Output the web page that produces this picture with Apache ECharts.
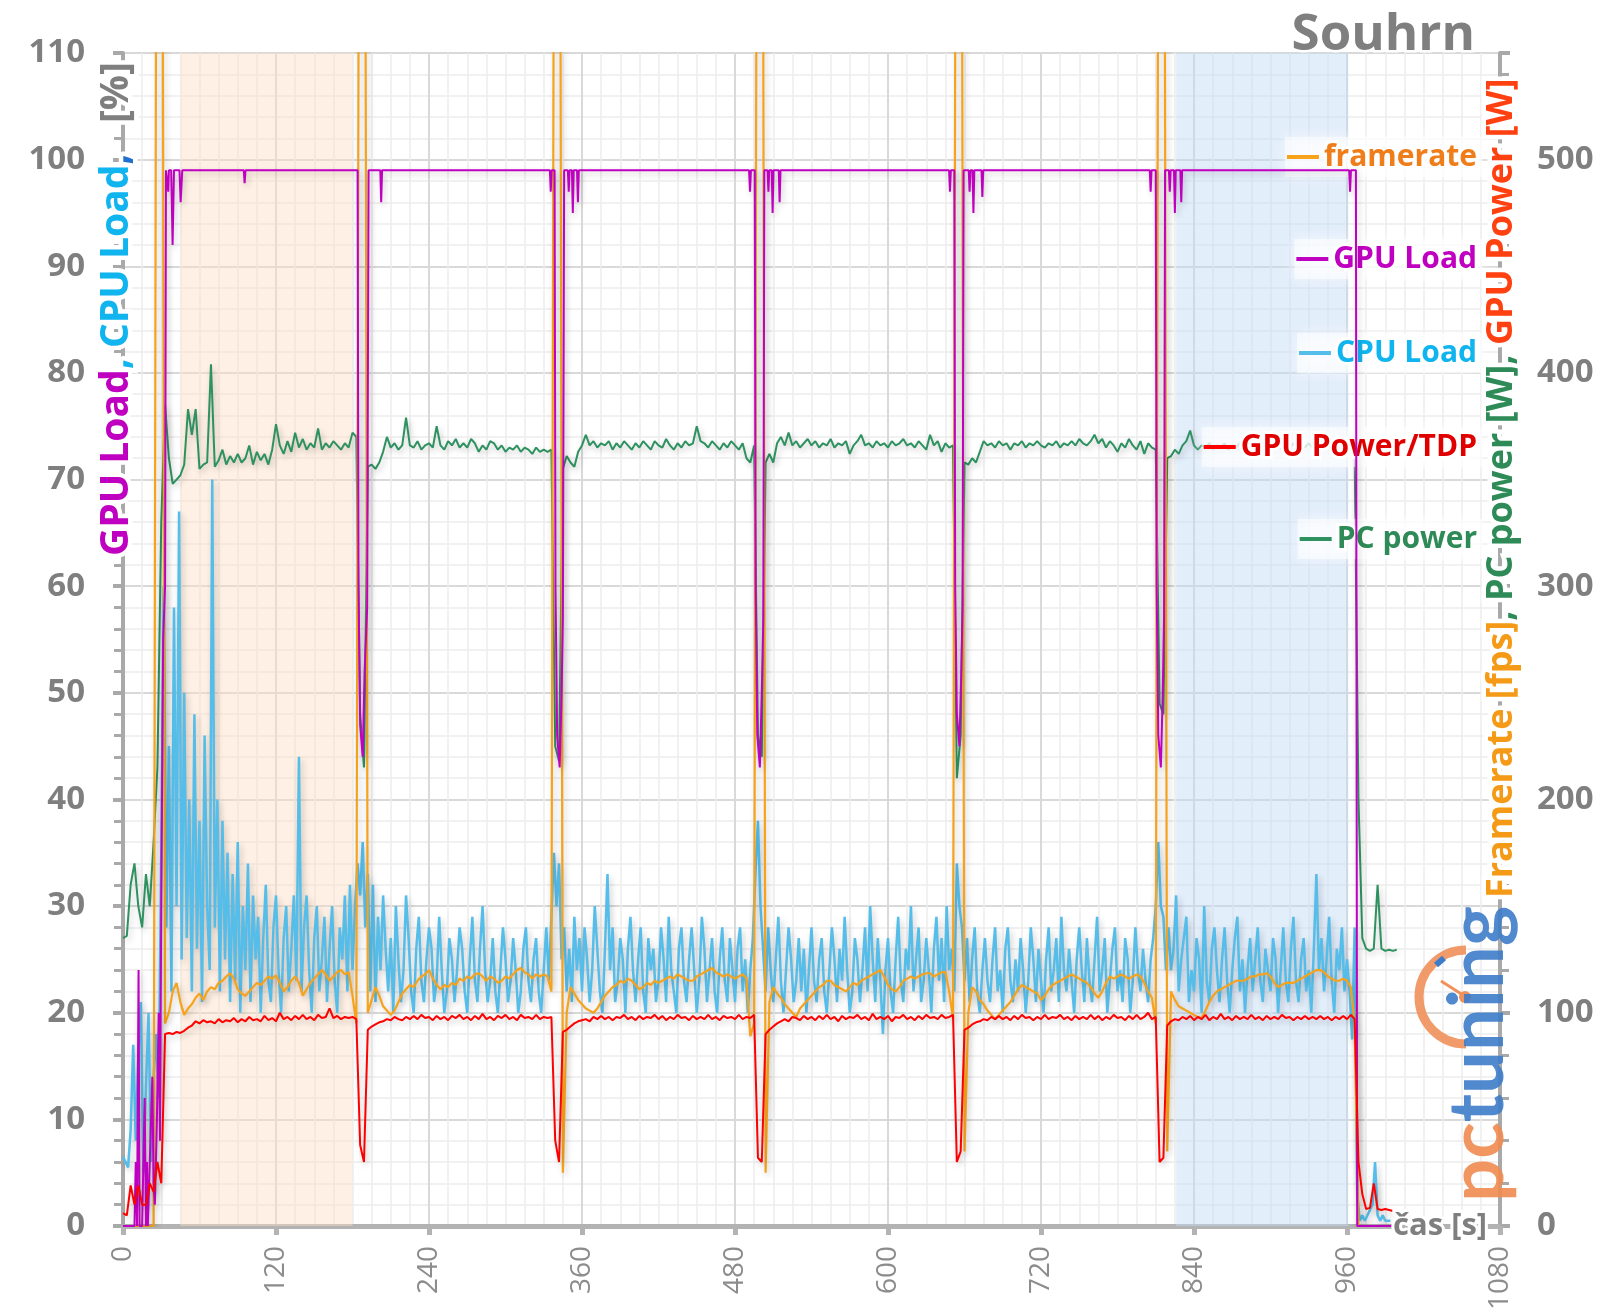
<!DOCTYPE html>
<html><head><meta charset="utf-8">
<script src="https://cdn.jsdelivr.net/npm/echarts@6/dist/echarts.min.js"></script>
<style>html,body{margin:0;padding:0;background:#fff}#c{width:1600px;height:1313px}</style>
</head><body><div id="c"></div>
<script>
// ---- data ----
const xTicks = [0,120,240,360,480,600,720,840,960,1080];
const legendNames = ['framerate','GPU Load','CPU Load','GPU Power/TDP','PC power'];
const bandOrange = [45,180];
const bandBlue = [826,961];
// PC power [W], one value every 3 s from t=0
const pcPowerW = [
135,136,160,170,150,140,165,150,180,215,
330,385,360,348,350,352,357,383,371,383,
355,357,358,404,356,359,364,357,361,358,
362,358,360,366,357,363,359,362,357,364,
376,366,362,368,363,372,365,369,364,367,
365,374,364,367,365,368,366,364,367,365,
372,370,240,215,356,357,355,358,363,370,
365,367,364,366,379,366,365,368,364,366,
367,365,375,366,364,368,366,369,365,367,
365,369,367,363,366,364,368,367,364,366,
363,365,364,366,363,365,364,362,365,363,
364,363,364,225,218,355,361,358,356,363,
366,371,366,368,365,367,366,368,364,367,
365,368,366,364,367,365,368,366,364,368,
366,365,369,366,364,367,365,368,366,367,
375,368,367,365,368,366,364,367,365,368,
366,364,367,360,358,366,230,220,358,362,
358,367,370,366,372,366,368,365,367,369,
366,368,365,367,366,369,365,367,366,368,
362,366,368,371,366,367,365,368,366,367,
365,368,366,367,369,366,367,365,368,366,
364,371,366,368,363,367,365,366,210,230,
358,357,360,358,363,368,366,367,365,368,
366,367,364,367,366,368,365,367,366,368,
366,365,367,366,368,365,367,366,368,366,
369,367,366,368,371,367,369,365,368,366,
363,367,365,369,366,364,368,362,367,365,
364,245,240,360,361,364,362,366,368,373,
366,364,366,365,367,364,366,365,367,364,
366,365,367,365,366,364,367,365,366,364,
367,365,366,364,366,365,367,364,366,365,
367,365,366,364,367,365,366,364,366,365,
367,365,362,200,135,130,129,130,160,130,
129,129.5,129,129.5];
// GPU power [W], one value every 3 s from t=0
const gpuPowerW = [
6,5,19,10,19,10,10,20,16,30,
20,90,90.5,90,91,90.5,91.5,93,94,96,
95,96.5,95.5,96,95,97,95.5,96.5,96,97.5,
95.5,97,96,98,96.5,97,96,98.5,96.5,97.5,
96,100,97,98,96.5,98.5,97,99,97,98,
96.5,99,97.5,98,102,97.5,98.5,97,98,97.5,
98,97,38,30,92,93.5,94.5,95.5,96,97,
96.5,98,97,96.5,98,97,98.5,97,99,97.5,
98,96.5,98.5,97,98,96.5,98.5,97.5,99,97,
98,96.5,98.5,97,99.5,97,98,96.5,98.5,97.5,
99,97,98,96.5,99,97.5,98,97,99,97,
98,97.5,98,40,30,91,92,93.5,95,96,
96.5,97,96,98,97,98.5,97,98,96.5,98,
97.5,99,97,98,96.5,98.5,97,98,97.5,99,
97,98.5,96.5,98,97,99,97.5,98,96.5,98.5,
97,98,97,99,97,98,96.5,98.5,97.5,98,
97,99,97,98,97.5,99,32,30,90,92,
93.5,95,96,97,96,98,97.5,96.5,98.5,97,
98,96.5,98.5,97,99,97,98,96,98.5,97,
98,97.5,99,97,98,96.5,99.5,97,98,97,
98.5,96,98,97.5,99,97,98,96.5,98.5,97,
99,97.5,98,97,99,97.5,98,99,30,35,
92,93,94.5,95.5,96,97,96.5,98,97,98.5,
97,98,96.5,98.5,97,99,97.5,98,96.5,98,
97,99,97,98,97.5,99,97,98,96.5,98.5,
97,98,97,99,97,98.5,96.5,98,97,99,
97.5,98,96.5,98.5,97,99,97,98,100,97,
98,30,32,94,96,97,96.5,98,97,98.5,
96.5,98,97,99,96.5,98,97,99.5,97,98,
96.5,98.5,97,98,97,99,97,98,96.5,98.5,
97,98,97,99,97.5,98,96.5,98,97,98.5,
97,98,97,98.5,97,98,96.5,98,97,98.5,
97,99,97,30,15,8,8.5,20,8,7.5,
8,7.5,7];
// framerate [fps], one value every 3 s from t=0 (900 = off the top of the chart)
const framerateFps = [
0,0,0,0,0,0,0,0,0,900,
900,95,100,110,114,105,99,102,104,107,
109,106,110,112,111,114,115,117,118.5,116,
111,109,108,110,112,114,113,115,117,116,
117.5,114,110,112,115,117,114,108,111,114,
116,118,120,118,115,117,119,120,118,119,
108,95,900,900,100,106,112,108,103,101,
99,101,105,109,111,113,112,115,117,118,
120,116,113,111,113,112,114,113,116,115,
117,116,118,118.5,117,115,117,116,114,115,
117,116,118,120,121,119,118,116,118,117,
118,117,110,900,900,25,100,112,109,106,
104,102,101,100,102,105,108,110,112,113,
115,114,116,115,113,111,112,114,113,115,
114,115,116,117,116,118,117,116,115,115,
117,118,119,120,121,119,118,117,118,117,
116,117,118,116,89,95,900,900,25,105,
112,109,107,104,102,100,98,102,104,106,
108,110,112,113,115,115,113,112,111,110,
112,114,113,115,116,117,118,119,120,117,
113,111,110,112,115,116,117,116,117,118,
118.5,118.5,117,118,119,119,110,97,900,900,
35,100,112,110,106,104,101,99,97,99,
101,103,105,108,111,113,112,111,110,109,
106,108,111,113,114,115,116,117,118,117,
116,115,114,112,109,107,110,114,117,116,
117,118,117,116,117,118,117,114,110,107,
95,900,900,35,110,106,103,102,101,100,
99,98,97.5,101,105,108,110,111,112,113,
114,115,115,115,116,117,117,118,118,118.5,
117,114,112,113,114,114,114,115,116,117,
118,119,120,120,119,117,116,115,115,116,
115,112,95,0,0,0,0,0,0,0,
0,0];
// CPU load [%], one value every 2 s from t=0
const cpuLoadPct = [
6.5,6,5.5,9,17,8,16,21,5,13,
20,6,14,18,12,35,60,28,45,22,
58,30,67,25,50,27,40,22,48,26,
38,21,46,30,24,70,28,40,22,38,
25,35,21,33,23,36,20,30,24,34,
21,31,25,29,20,27,32,23,21,28,
31,24,20,27,30,22,26,31,23,44,
22,28,31,24,20,27,30,22,25,29,
21,26,30,23,20,28,25,31,22,32,
24,30,34,31,36,28,33,22,32,21,
29,24,31,26,22,27,20,30,25,21,
24,31,27,22,20,26,29,23,21,25,
28,26,21,23,29,24,20,22,27,25,
21,24,28,26,22,20,25,29,23,21,
26,30,24,21,23,27,22,20,24,28,
25,21,23,27,24,20,22,26,28,23,
21,25,27,22,20,24,28,23,29,35,
30,34,25,28,22,26,21,29,24,27,
22,28,25,21,24,30,26,22,20,26,
33,24,28,21,23,27,25,20,26,29,
24,21,25,28,22,20,27,24,26,21,
23,28,25,21,29,24,22,20,26,28,
23,21,25,28,24,20,23,29,26,21,
24,27,22,20,25,28,23,21,27,24,
21,26,28,22,25,20,24,27,33,38,
30,26,22,28,24,21,25,29,23,20,
24,28,25,21,23,27,22,26,20,24,
28,23,21,25,27,22,20,24,28,25,
21,26,23,29,24,20,22,27,25,21,
24,28,22,30,25,21,27,23,18,24,
27,22,20,25,29,23,21,26,24,30,
22,25,28,21,23,27,24,20,26,29,
23,27,21,30,24,26,22,34,30,28,
23,27,21,25,28,22,20,24,27,23,
21,25,28,22,24,20,26,28,23,21,
25,22,27,24,20,23,28,25,21,26,
23,20,25,28,22,24,27,21,29,24,
22,26,23,20,25,28,24,21,27,23,
21,25,29,22,24,27,20,23,26,28,
22,24,21,27,25,20,23,28,24,22,
26,23,21,25,27,30,36,30,29,24,
28,24,26,31,22,25,27,29,21,24,
22,27,25,20,30,23,21,26,28,24,
21,25,28,23,20,24,27,29,22,25,
20,24,27,22,25,28,23,21,26,24,
22,27,25,20,24,28,23,21,26,29,
23,21,25,27,22,24,20,26,33,24,
27,22,25,29,23,20,26,24,28,22,
25,22,17.5,28,3,0.5,1,0.5,1,1.5,
2,6,1,0.5,1,0.5,0.5,0.5];
// GPU load [%] as (time, value) change points
const gpuLoadT = [0,9,10,11,11.5,12.2,13,15,17,18,18.8,19.5,21,23,24,25,26.6,28,29,30,31.5,33,33.7,35,35.5,36,37.8,38.9,40,44.3,45.2,46.5,94.7,95.4,96.1,
184,184.7,186,188,189.5,191.5,192.6,201.8,202.5,203.2,
334.8,335.5,336.2,338.5,339.2,340.5,342.5,344,345,346,348.9,349.6,350.3,352.1,352.8,353.5,356.1,356.8,357.5,
491,491.8,492.5,495.5,496.2,497.5,499.5,501,502.2,503,505.5,506.2,506.9,508.8,509.5,510.2,514.3,515,515.7,
647.9,648.6,649.3,652,652.7,654,656,657.5,658.5,659.3,663.3,664,664.7,666.3,667,667.7,673.3,674,674.7,
805.3,806,806.7,810,810.7,812,814,815.5,816.5,817.3,820.3,821,821.7,824.3,825,825.7,829.3,830,830.7,
961.7,962.4,963.1,967,968,995];
const gpuLoadV = [0,0,6,0,0,24,0,0,12,0,6,0,0,14,4,2,10,20,8,30,55,60,99,99,97,99,99,92,99,99,96,99,99,97.8,99,
99,60,47,44,52,58,99,99,96,99,
99,97,99,99,60,46,43,50,57,99,99,97,99,99,95,99,99,96,99,
99,97,99,99,60,46,43,50,57,99,99,97,99,99,95,99,99,96,99,
99,97,99,99,60,48,45,52,58,99,99,97,99,99,95,99,99,96.5,99,
99,97,99,99,60,46,43,50,57,99,99,97,99,99,95,99,99,96,99,
99,97,99,99,0,0];

// ---- build ----
const every = (arr, step) => arr.map((v, i) => [i * step, v]);
const pairs = (ts, vs) => ts.map((t, i) => [t, vs[i]]);
const FONT = '"Open Sans", "Noto Sans", sans-serif';
const GRAY = '#7f7f7f';
const AX = '#a9a9a9';
const COL = {fr:'#f7a21b', gl:'#c000c0', cl:'#55bde9', gp:'#ff0000', pc:'#2e9160'};
const legendText = ['#ef7d1a','#c000c0','#10b4ee','#e00000','#2e8b57'];
const legendCenters = [156,258,352,446,538];
const sh = {shadowColor:'rgba(0,0,0,0.22)', shadowBlur:6, shadowOffsetX:2, shadowOffsetY:3};
const plain = v => String(v);

const chart = echarts.init(document.getElementById('c'), null, {renderer:'canvas'});
const option = {
  animation:false,
  backgroundColor:'#ffffff',
  title:{text:'Souhrn', right:120, top:10, padding:0,
    textStyle:{fontFamily:FONT, fontSize:51, fontWeight:'bold', color:GRAY, textBorderColor:'#fff', textBorderWidth:5}},
  grid:{left:123, right:100, top:53, bottom:87, containLabel:false, outerBoundsMode:'none'},
  legend: legendNames.map((n,i)=>({
    data:[n], orient:'horizontal', right:118, top:legendCenters[i]-19,
    icon:'rect', itemWidth:32, itemHeight:4, itemGap:0, selectedMode:false,
    padding:[2,2], backgroundColor:'rgba(255,255,255,0.55)', shadowColor:'rgba(255,255,255,1)', shadowBlur:12,
    textStyle:{fontFamily:FONT, fontSize:30, fontWeight:'bold', color:legendText[i], textBorderColor:'#fff', textBorderWidth:6}
  })),
  xAxis:{type:'value', min:xTicks[0], max:xTicks[xTicks.length-1], interval:120,
    axisLine:{onZero:false, lineStyle:{color:'#b3b3b3', width:5}},
    axisTick:{length:9, lineStyle:{color:'#b3b3b3', width:5}},
    minorTick:{show:false, splitNumber:8},
    axisLabel:{rotate:90, margin:20, color:'#8c8c8c', fontSize:28, fontFamily:FONT, formatter:plain},
    splitLine:{show:true, lineStyle:{color:'#d9d9d9', width:2}},
    minorSplitLine:{show:true, lineStyle:{color:'#ededed', width:1.5}}
  },
  yAxis:[
    {type:'value', min:0, max:110, interval:10, position:'left',
      axisLine:{show:true, lineStyle:{color:AX, width:4}},
      axisTick:{show:true, length:10, lineStyle:{color:AX, width:4}},
      minorTick:{show:true, splitNumber:5, length:9, lineStyle:{color:AX, width:3}},
      axisLabel:{margin:38, color:GRAY, fontSize:33, fontWeight:'bold', fontFamily:FONT, formatter:plain},
      splitLine:{show:true, lineStyle:{color:'#d9d9d9', width:2}},
      minorSplitLine:{show:true, lineStyle:{color:'#ededed', width:1.5}}},
    {type:'value', min:0, max:550, interval:100, position:'right',
      axisLine:{show:true, onZero:false, lineStyle:{color:AX, width:4}},
      axisTick:{show:true, length:10, lineStyle:{color:AX, width:4}},
      minorTick:{show:true, splitNumber:5, length:9, lineStyle:{color:AX, width:3}},
      axisLabel:{margin:37, showMaxLabel:false, color:GRAY, fontSize:33, fontWeight:'bold', fontFamily:FONT, formatter:plain},
      splitLine:{show:false}, minorSplitLine:{show:false}}
  ],
  series:[
    {name:'CPU Load', type:'line', yAxisIndex:0, data:every(cpuLoadPct,2), symbol:'none', z:2,
      lineStyle:{color:COL.cl, width:2.5, ...sh}, itemStyle:{color:COL.cl},
      markArea:{silent:true, data:[
        [{xAxis:bandOrange[0], itemStyle:{color:'rgba(252,222,196,0.45)'}},{xAxis:bandOrange[1]}],
        [{xAxis:bandBlue[0], itemStyle:{color:'rgba(196,219,247,0.48)'}},{xAxis:bandBlue[1]}]
      ]}},
    {name:'PC power', type:'line', yAxisIndex:1, data:every(pcPowerW,3), symbol:'none', z:3,
      lineStyle:{color:COL.pc, width:2, ...sh}, itemStyle:{color:COL.pc}},
    {name:'framerate', type:'line', yAxisIndex:1, data:every(framerateFps,3), symbol:'none', z:4,
      lineStyle:{color:COL.fr, width:2.2, ...sh}, itemStyle:{color:COL.fr}},
    {name:'GPU Load', type:'line', yAxisIndex:0, data:pairs(gpuLoadT,gpuLoadV), symbol:'none', z:5,
      lineStyle:{color:COL.gl, width:2, ...sh}, itemStyle:{color:COL.gl}},
    {name:'GPU Power/TDP', type:'line', yAxisIndex:1, data:every(gpuPowerW,3), symbol:'none', z:6,
      lineStyle:{color:COL.gp, width:2, ...sh}, itemStyle:{color:COL.gp}}
  ],
  graphic:[
    // pctuning watermark
    {type:'arc', z:1, shape:{cx:1466, cy:997, r:47, startAngle:Math.PI*0.5, endAngle:Math.PI*1.5, clockwise:true},
      style:{stroke:'#f0905a', lineWidth:9, fill:null, opacity:0.9}},
    {type:'line', z:1, shape:{x1:1466, y1:997, x2:1441, y2:981}, style:{stroke:'#f0905a', lineWidth:3}},
    {type:'circle', z:1, shape:{cx:1465, cy:997, r:6}, style:{fill:'#f0905a'}},
    {type:'line', z:1, shape:{x1:1436, y1:965, x2:1444, y2:958}, style:{stroke:'#3d7cc9', lineWidth:6}},
    {type:'text', z:1, x:1478, y:1202, rotation:Math.PI/2,
      style:{text:'{p|pc}{t|tuning}', textAlign:'left', textVerticalAlign:'middle', font:'bold 76px Lato, "Open Sans", sans-serif', opacity:0.9,
        rich:{p:{fill:'#f08a50'}, t:{fill:'#3d7cc9'}}}},
    // x axis name
    {type:'text', z:100, x:1393, y:1226,
      style:{text:'čas [s]', textAlign:'left', textVerticalAlign:'middle', font:'bold 31px "Open Sans", sans-serif',
        fill:GRAY, stroke:'#fff', lineWidth:6}},
    // left axis title
    {type:'text', z:100, x:117, y:556, rotation:Math.PI/2,
      style:{text:'{m|GPU Load}{c|, CPU Load}{b|,}{g|   [%]}', textAlign:'left', textVerticalAlign:'middle',
        font:'bold 39px "Open Sans", sans-serif', stroke:'#fff', lineWidth:9,
        rich:{m:{fill:'#c000c0'}, c:{fill:'#10b4ee'}, b:{fill:'#1f6fd0'}, g:{fill:GRAY}}}},
    // right axis title
    {type:'text', z:100, x:1502, y:898, rotation:Math.PI/2,
      style:{text:'{f|Framerate [fps]}{g|, }{p|PC power [W]}{g|, }{r|GPU Power [W]}', textAlign:'left', textVerticalAlign:'middle',
        font:'bold 36px "Open Sans", sans-serif', stroke:'#fff', lineWidth:9,
        rich:{f:{fill:'#f59a16'}, g:{fill:'#2e8b57'}, p:{fill:'#2e8b57'}, r:{fill:'#ff4010'}}}}
  ]
};
chart.setOption(option);
</script></body></html>
